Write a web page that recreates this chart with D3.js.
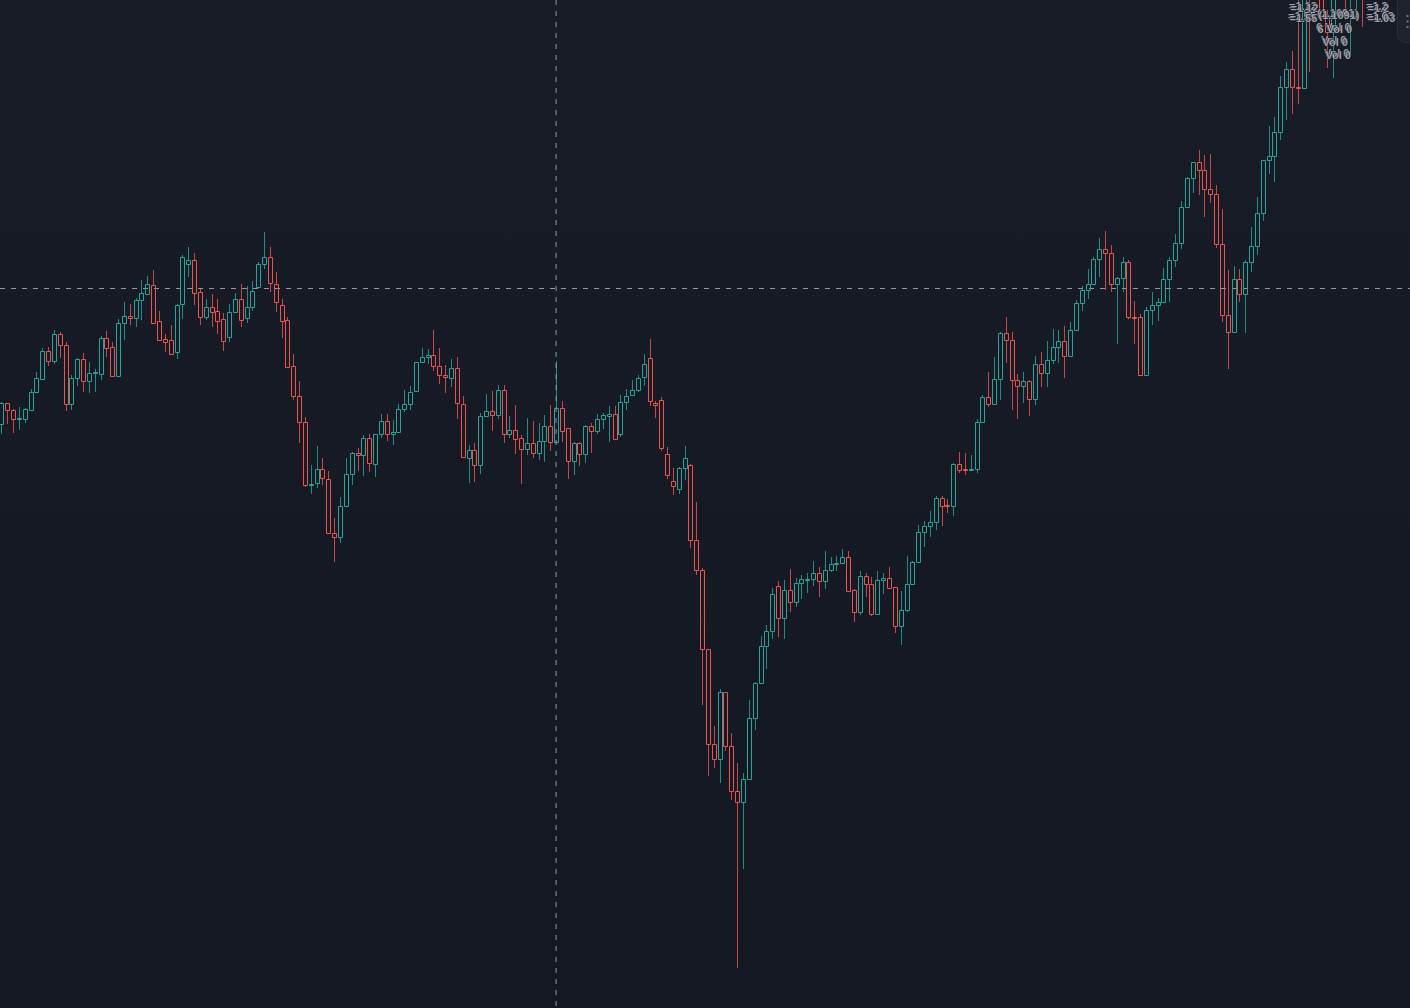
<!DOCTYPE html>
<html>
<head>
<meta charset="utf-8">
<script src="https://cdn.jsdelivr.net/npm/d3@7"></script>
<style>
  html, body { margin: 0; padding: 0; background: #131722; overflow: hidden; }
  #chart { width: 1410px; height: 1008px; }
</style>
</head>
<body>
<div id="chart"></div>
<script>
'use strict';

// OHLC per candle (price units, no axis shown)
const opens = [
  676,697,690,681,681,690,708,721,749,739,
  766,755,696,722,741,719,727,726,762,753,
  724,777,784,782,800,806,815,779,761,760,
  748,796,836,840,808,783,793,789,781,763,
  788,801,782,793,813,836,843,816,795,780,
  734,704,678,615,617,631,621,567,563,594,
  626,647,645,662,636,666,679,666,668,691,
  696,709,738,743,745,734,725,722,732,696,
  642,650,635,684,689,685,710,666,670,662,
  651,657,647,659,674,658,692,672,639,657,
  646,674,669,681,684,686,666,698,705,710,
  723,742,697,700,646,619,611,632,635,560,
  530,451,356,341,408,354,309,298,321,382,
  417,454,469,514,482,510,498,517,520,521,
  527,519,530,536,537,543,510,488,524,516,
  486,520,522,513,474,490,516,538,568,574,
  578,602,595,594,636,631,630,631,678,703,
  696,721,767,760,720,714,719,701,736,727,
  740,753,759,744,770,797,810,816,841,851,
  847,816,822,838,783,783,725,790,795,798,
  821,840,857,893,922,938,930,911,906,856,
  785,768,821,806,838,854,887,940,944,968,
  1013,1031,1013,1012,1140,1115,1120,1084,1068,1110,
  1130,1105,1120,1135
];
const highs = [
  698,697,691,693,692,711,728,752,753,770,
  768,758,725,742,747,738,731,764,769,758,
  781,798,796,802,820,824,830,789,766,775,
  796,845,853,847,811,801,806,801,787,796,
  807,816,814,819,838,868,853,828,801,783,
  746,719,683,635,654,642,629,582,603,642,
  648,652,665,666,666,686,686,680,696,710,
  714,738,752,751,770,752,735,741,743,704,
  655,657,687,706,709,715,715,684,695,665,
  682,679,677,685,695,739,699,672,658,658,
  675,677,686,687,694,694,705,711,720,725,
  746,761,699,703,653,632,633,654,636,598,
  532,451,374,411,408,367,337,327,400,418,
  464,475,512,519,520,531,522,525,527,539,
  533,549,543,544,551,549,511,529,527,523,
  529,527,533,513,509,544,539,575,579,589,
  604,604,601,637,648,647,645,681,705,728,
  743,768,783,768,726,728,720,744,748,759,
  771,770,774,778,800,814,831,843,862,869,
  855,823,843,840,799,786,793,808,802,832,
  843,866,899,923,938,950,945,946,915,891,
  830,834,831,840,873,903,940,974,983,1024,
  1038,1049,1105,1130,1150,1160,1130,1090,1130,1150,
  1140,1140,1150,1150
];
const lows = [
  666,676,667,670,677,690,708,720,734,736,
  742,689,690,714,708,707,708,720,743,724,
  724,760,775,773,780,805,777,760,748,746,
  741,781,823,795,775,780,773,766,749,758,
  787,773,777,789,813,831,808,788,762,732,
  700,657,613,606,612,615,567,538,557,594,
  615,629,624,628,623,662,659,655,668,688,
  690,709,738,736,729,716,707,713,681,642,
  617,618,626,683,669,681,657,662,646,616,
  645,642,640,638,649,658,658,621,625,634,
  637,647,666,671,658,660,663,690,705,708,
  714,694,682,649,621,605,606,620,552,525,
  395,324,332,317,349,300,132,231,321,370,
  417,431,461,463,461,488,493,501,507,514,
  503,511,528,529,537,509,478,485,503,484,
  486,506,511,467,455,488,516,538,553,563,
  570,574,587,584,627,625,629,627,678,693,
  696,700,737,690,681,697,684,695,713,713,
  736,737,722,743,769,789,801,815,823,810,
  808,756,808,781,756,725,725,775,779,798,
  798,833,851,893,907,905,883,897,852,778,
  731,768,798,767,828,845,879,926,918,960,
  980,986,996,1012,1028,1105,1080,1032,1022,1105,
  1080,1045,1083,1073
];
const closes = [
  697,690,681,682,691,708,722,749,739,766,
  755,696,722,741,719,727,728,762,752,724,
  777,784,782,800,807,816,777,760,758,746,
  795,843,840,807,783,793,788,779,759,788,
  801,780,793,809,836,843,817,798,779,733,
  704,678,615,616,631,622,567,563,594,626,
  647,645,662,637,666,679,666,668,691,696,
  708,738,743,745,734,725,723,732,697,643,
  650,635,684,689,685,710,666,670,661,651,
  657,647,659,674,658,692,669,639,657,646,
  674,669,681,685,686,661,698,704,710,722,
  736,699,695,652,625,614,632,642,560,530,
  451,356,341,408,354,309,298,321,382,417,
  454,469,506,482,510,498,517,521,521,527,
  519,530,536,537,543,509,488,524,516,486,
  520,522,512,474,490,516,538,568,574,578,
  602,594,594,636,630,630,631,678,703,696,
  721,767,760,720,714,719,701,736,727,740,
  753,759,744,770,797,810,816,841,851,847,
  816,822,838,783,782,725,790,795,798,821,
  840,857,893,922,938,930,911,906,856,785,
  768,821,806,838,854,887,940,944,968,1013,
  1031,1013,1012,1120,1110,1145,1084,1068,1120,1140,
  1105,1130,1135,1115
];

// crosshair: hovered candle and price level
const crossIndex = 95;
const crossPrice = 812.5;

// overlapping legend fragments in the top right corner
const legendTexts = ["=1.12", "=1.55", "(1.1091)", "=1.2", "=1.03", "6 Vol 0", "Vol 0", "Vol 0"];

document.addEventListener('DOMContentLoaded', () => {

  const w = 1410;
  const h = 1008;
  const upColor = "#26a69a";
  const downColor = "#ef5350";

  const data = opens.map((o, i) => ({
    i: i, open: o, high: highs[i], low: lows[i], close: closes[i]
  }));

  const svg = d3.select("#chart")
    .append("svg")
    .attr("width", w)
    .attr("height", h)
    .style("display", "block");

  // background gradient
  const grad = svg.append("defs")
    .append("linearGradient")
    .attr("id", "bg")
    .attr("x1", 0).attr("y1", 0).attr("x2", 0).attr("y2", 1);
  grad.append("stop").attr("offset", "0%").attr("stop-color", "#181c27");
  grad.append("stop").attr("offset", "100%").attr("stop-color", "#131722");
  svg.append("rect")
    .attr("width", w)
    .attr("height", h)
    .attr("fill", "url(#bg)");

  // scales
  const xScale = d3.scaleLinear().domain([0, data.length - 1]).range([1.3, 1.3 + (data.length - 1) * 5.84]);
  const yScale = d3.scaleLinear().domain([92, 1100]).range([h, 0]);

  // crosshair (horizontal)
  const cx = xScale(crossIndex);
  svg.append("line")
    .attr("x1", 0).attr("x2", w)
    .attr("y1", Math.round(yScale(crossPrice)) + 0.5)
    .attr("y2", Math.round(yScale(crossPrice)) + 0.5)
    .attr("stroke", "#9598a1")
    .attr("stroke-dasharray", "5,6");

  // candles
  const candles = svg.append("g")
    .selectAll("g")
    .data(data)
    .enter()
    .append("g")
    .attr("class", "candle");

  const col = d => d.close >= d.open ? upColor : downColor;
  const center = d => Math.round(xScale(d.i));
  const bodyTop = d => Math.round(yScale(Math.max(d.open, d.close)));
  const bodyBot = d => Math.round(yScale(Math.min(d.open, d.close)));

  candles.append("line")
    .attr("x1", d => center(d) + 0.5)
    .attr("x2", d => center(d) + 0.5)
    .attr("y1", d => Math.round(yScale(d.high)))
    .attr("y2", d => bodyTop(d))
    .attr("stroke", col)
    .attr("stroke-opacity", 0.82);

  candles.append("line")
    .attr("x1", d => center(d) + 0.5)
    .attr("x2", d => center(d) + 0.5)
    .attr("y1", d => bodyBot(d) + 1)
    .attr("y2", d => Math.round(yScale(d.low)))
    .attr("stroke", col)
    .attr("stroke-opacity", 0.82);

  candles.append("path")
    .attr("d", d => {
      const x0 = center(d) - 1.5, x1 = center(d) + 2.5;
      const y0 = bodyTop(d) + 0.5, y1 = bodyBot(d) + 0.5;
      return `M${x0},${y0}H${x1}V${y1}H${x0}Z`;
    })
    .attr("fill", "none")
    .attr("stroke", col);

  // crosshair (vertical)
  svg.append("line")
    .attr("x1", cx).attr("x2", cx)
    .attr("y1", 0).attr("y2", h)
    .attr("stroke", "#9598a1")
    .attr("stroke-dasharray", "5,6");

  // smeared legend in the corner (each fragment drawn twice, slightly offset)
  const legendPos = [[1289, 10], [1288, 20], [1317, 17], [1366, 10], [1366, 20], [1316, 31], [1321, 44], [1324, 57]];
  const legend = svg.append("g")
    .style("font-family", "'Liberation Sans', Arial, sans-serif")
    .style("font-size", "11px")
    .style("font-weight", "bold");
  legendTexts.forEach((t, k) => {
    [0, 1.5].forEach(off => {
      legend.append("text")
        .attr("x", legendPos[k][0] + off)
        .attr("y", legendPos[k][1] + off)
        .attr("fill", "#c3c6ce")
        .attr("fill-opacity", 0.8)
        .attr("stroke", "#131722")
        .attr("stroke-width", 0.8)
        .attr("paint-order", "stroke")
        .text(t);
    });
  });

  // side widget
  svg.append("rect")
    .attr("x", 1397.5).attr("y", -12)
    .attr("width", 30).attr("height", 54.5)
    .attr("rx", 8)
    .attr("fill", "#1e222d")
    .attr("stroke", "#2a2e39");
  svg.append("g")
    .selectAll("rect")
    .data([16, 21.5, 27])
    .enter()
    .append("rect")
    .attr("x", 1406.5).attr("y", d => d - 1)
    .attr("width", 2).attr("height", 2)
    .attr("fill", "#787b86");

});
</script>
</body>
</html>
